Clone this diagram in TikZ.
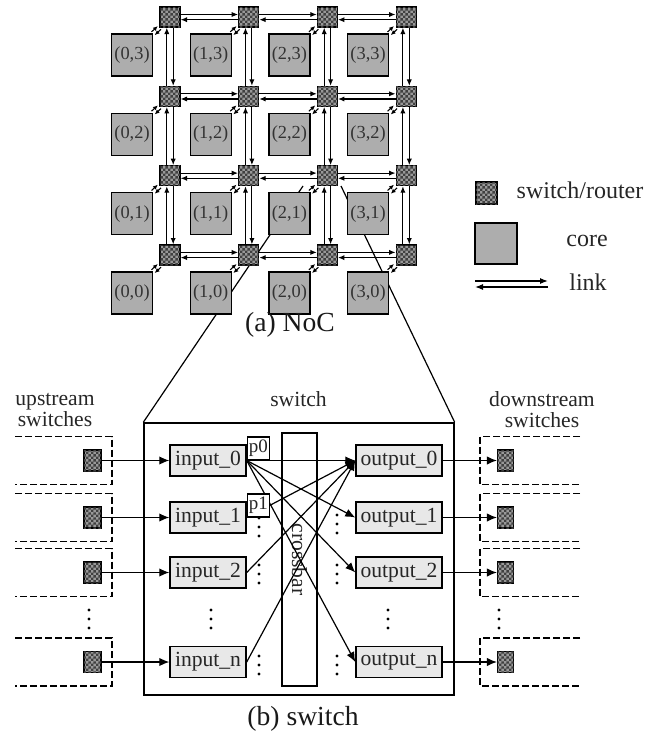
\documentclass[tikz,border=0pt]{standalone}
\usepackage{fontspec}
\setmainfont{Liberation Serif}
\usetikzlibrary{arrows.meta,patterns}
\pgfdeclarepatternformonly{finechecker}{\pgfpointorigin}{\pgfqpoint{2.4pt}{2.4pt}}{\pgfqpoint{2.4pt}{2.4pt}}{%
	\pgfpathrectangle{\pgfpointorigin}{\pgfqpoint{1.2pt}{1.2pt}}%
	\pgfpathrectangle{\pgfqpoint{1.2pt}{1.2pt}}{\pgfqpoint{1.2pt}{1.2pt}}%
	\pgfusepath{fill}}
\def\vdotsat(#1){\fill (#1) ++(0,-9) circle (0.8pt) ++(0,9) circle (0.8pt) ++(0,9) circle (0.8pt);}

\begin{document}
\begin{tikzpicture}[x=0.5pt,y=-0.5pt,
	core/.style={draw,line width=0.6pt,fill=black!32,minimum width=20.5pt,minimum height=21pt,inner sep=0pt,font=\fontsize{9.2}{10}\selectfont,text=black!80},
	router/.style={draw,line width=0.6pt,fill=black!40,postaction={pattern=finechecker,pattern color=black!75},minimum width=10pt,minimum height=10pt,inner sep=0pt},
	lnk/.style={line width=0.55pt,-{Latex[length=3.2pt,width=2.6pt]}},
	clnk/.style={line width=0.55pt,-{Latex[length=2.4pt,width=2.2pt]}},
	biglnk/.style={line width=0.6pt,-{Latex[length=4pt,width=3pt]}},
	port/.style={draw,line width=0.7pt,fill=black!9,minimum height=15.5pt,inner sep=1pt,font=\fontsize{10.8}{12}\selectfont,text=black!85},
	pbox/.style={draw,line width=0.6pt,fill=white,minimum width=11pt,minimum height=11.5pt,inner sep=0.5pt,font=\fontsize{9.5}{10}\selectfont,text=black!85},
	wire/.style={line width=0.6pt,-{Latex[length=5pt,width=4.2pt]}},
	dashbox/.style={line width=0.6pt,dash pattern=on 3.5pt off 1.5pt},
	lbl/.style={font=\fontsize{10.8}{10.5}\selectfont,text=black!85,align=center},
	legtxt/.style={font=\fontsize{12}{13}\selectfont,text=black!85},
	captxt/.style={font=\fontsize{13.8}{15}\selectfont,text=black!90}]
	%%%%% START %%%%%
	\useasboundingbox (0,0) rectangle (660,738);
	
	\node[draw,line width=0.7pt,minimum width=155pt,minimum height=136pt] (swbox) at (299,559) {};
	\coordinate (zl) at (303,186);
	\coordinate (zr) at (341,186);
	\draw[line width=0.6pt] (zl) -- (swbox.north west);
	\draw[line width=0.6pt] (zr) -- (swbox.north east);
	
	% NoC grid
	\foreach \i in {0,...,3}{
		\foreach \j in {0,...,3}{
			\node[core] (c\i\j) at ({132+78.7*\i},{293-79.3*\j}) {(\i,\j)};
			\node[router] (s\i\j) at ({170+78.7*\i},{255-79.3*\j}) {};
			\draw[clnk] ([shift={(-0.8pt,0.8pt)}]c\i\j.north east) -- ([shift={(-0.8pt,0.8pt)}]s\i\j.south west);
			\draw[clnk] ([shift={(0.8pt,-0.8pt)}]s\i\j.south west) -- ([shift={(0.8pt,-0.8pt)}]c\i\j.north east);
		}
	}
	\foreach \i [evaluate=\i as \k using int(\i+1)] in {0,1,2}{
		\foreach \j in {0,...,3}{
			\draw[lnk] ([yshift=1.3pt]s\i\j.east) -- ([yshift=1.3pt]s\k\j.west);
			\draw[lnk] ([yshift=-1.3pt]s\k\j.west) -- ([yshift=-1.3pt]s\i\j.east);
		}
	}
	\foreach \i in {0,...,3}{
		\foreach \j [evaluate=\j as \m using int(\j-1)] in {1,2,3}{
			\draw[lnk] ([xshift=-1.6pt]s\i\m.north) -- ([xshift=-1.6pt]s\i\j.south);
			\draw[lnk] ([xshift=1.6pt]s\i\j.south) -- ([xshift=1.6pt]s\i\m.north);
		}
	}
	
	% legend
	\node[router,minimum width=10.5pt,minimum height=11pt] (legsw) at (486.5,193) {};
	\node[legtxt] (legswt) at (580,190) {switch/router};
	\node[core,minimum width=21pt,minimum height=20.5pt] (legcore) at (496,243.5) {};
	\node[legtxt] (legcoret) at (587,241) {core};
	\coordinate (lga) at (475,281);
	\coordinate (lgb) at (548,281);
	\coordinate (lgc) at (475,287);
	\coordinate (lgd) at (548,287);
	\draw[biglnk] (lga) -- (lgb);
	\draw[biglnk] (lgd) -- (lgc);
	\node[legtxt] (leglnkt) at (588,282) {link};
	
	\node[captxt] (capa) at (290,325) {(a) NoC};
	
	% switch
	\node[lbl] (swt) at (298.5,399) {switch};
	\node[lbl] (upt) at (55,410) {upstream\\switches};
	\node[lbl] (dnt) at (542,410) {downstream\\switches};
	\node[draw,line width=0.6pt,rotate=-90,minimum width=126.5pt,minimum height=17.5pt,lbl] (xbar) at (299.5,559.5) {crossbar};
	
	\foreach \r/\y in {0/460.5,1/517.5,2/572.5,n/662}{
		\draw[dashbox] (15,{\y-24}) -| (112,{\y+24}) -- (15,{\y+24});
		\draw[dashbox] (580,{\y-24}) -| (480,{\y+24}) -- (580,{\y+24});
		\node[router,minimum width=8.5pt,minimum height=10.5pt] (up\r) at (92.5,\y) {};
		\node[router,minimum width=8pt,minimum height=10.5pt] (dn\r) at (505.5,\y) {};
		\node[port,minimum width=38pt] (in\r) at (208,\y) {input\_\r};
		\node[port,minimum width=43pt] (out\r) at (399,\y) {output\_\r};
		\draw[wire] (up\r) -- (in\r);
		\draw[wire] (out\r) -- (dn\r);
	}
	\foreach \r in {0,1,2,n}
		\draw[wire] (in0.east) -- (out\r.west);
	\foreach \r in {1,2,n}
		\draw[wire] (in\r.east) -- (out0.west);
	\node[pbox,anchor=south west] (p0) at (in0.east) {p0};
	\node[pbox,anchor=south west] (p1) at (in1.east) {p1};
	
	\vdotsat(259,527)
	\vdotsat(259,574)
	\vdotsat(259,665)
	\vdotsat(337,524)
	\vdotsat(337,574)
	\vdotsat(337,665)
	\vdotsat(211,619)
	\vdotsat(388,619)
	\vdotsat(89,619)
	\vdotsat(499,619)
	
	\node[captxt] (capb) at (303,719) {(b) switch};
	%%%%% END %%%%%
\end{tikzpicture}
\end{document}
